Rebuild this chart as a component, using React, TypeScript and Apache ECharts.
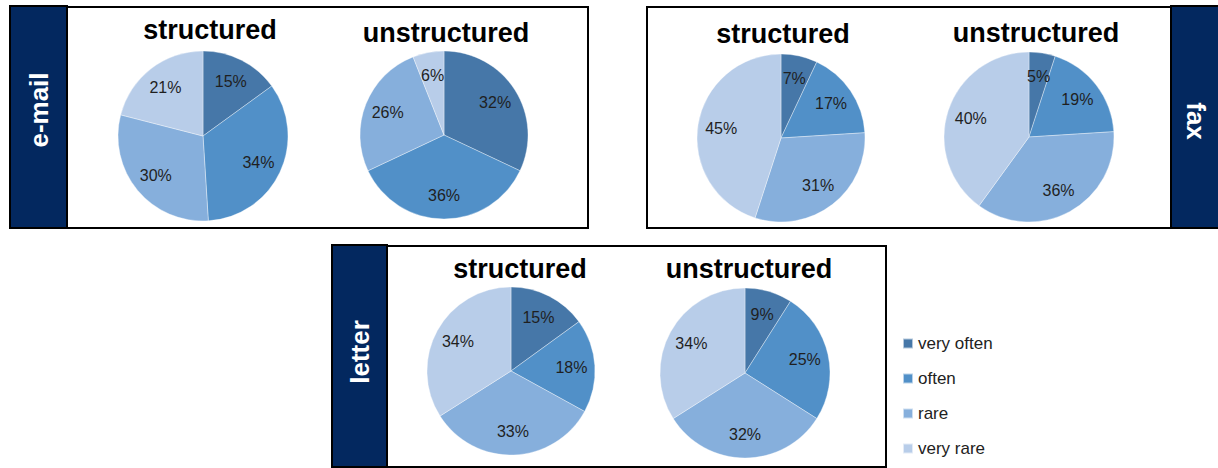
import React, { useEffect, useRef } from "react";
import * as echarts from "echarts";

// ---- data ----
const categories = ["very often", "often", "rare", "very rare"];
const emailStructured = [15, 34, 30, 21];
const emailUnstructured = [32, 36, 26, 6];
const faxStructured = [7, 17, 31, 45];
const faxUnstructured = [5, 19, 36, 40];
const letterStructured = [15, 18, 33, 34];
const letterUnstructured = [9, 25, 32, 34];
const panelLabels = ["e-mail", "fax", "letter"];
const pieTitles = ["structured", "unstructured"];

// ---- styles ----
const COLORS = ["#4677a8", "#5190c8", "#86afdc", "#b8cde9"];
const NAVY = "#03285f";
const FONT = '"Liberation Sans", Arial, sans-serif';

export default function App() {
  const ref = useRef<HTMLDivElement>(null);

  useEffect(() => {
    document.body.style.margin = "0";
    const chart = echarts.init(ref.current!, null, { renderer: "svg" });

    const pies = [
      { values: emailStructured, center: [203, 136], r: 85 },
      { values: emailUnstructured, center: [444, 135], r: 84 },
      { values: faxStructured, center: [781, 138], r: 84 },
      { values: faxUnstructured, center: [1029, 137], r: 85 },
      { values: letterStructured, center: [511, 371], r: 84 },
      { values: letterUnstructured, center: [745, 373], r: 85 },
    ];

    const toData = (vals: number[], transparent: boolean) =>
      vals.map((v, i) => ({
        name: categories[i],
        value: v,
        itemStyle: { color: transparent ? "rgba(0,0,0,0)" : COLORS[i] },
      }));

    const pieSeries = pies.map((p) => ({
      type: "pie",
      center: p.center,
      radius: [0, p.r],
      startAngle: 90,
      clockwise: true,
      silent: true,
      emphasis: { disabled: true },
      label: { show: false },
      labelLine: { show: false },
      itemStyle: { borderColor: "rgba(255,255,255,0.6)", borderWidth: 0.6 },
      data: toData(p.values, false),
    }));

    const labelSeries = pies.map((p) => ({
      type: "pie",
      center: p.center,
      radius: [0, p.r * 1.37],
      startAngle: 90,
      clockwise: true,
      silent: true,
      legendHoverLink: false,
      emphasis: { disabled: true },
      label: {
        show: true,
        position: "inside",
        formatter: "{c}%",
        fontFamily: FONT,
        fontSize: 16,
        color: "#1f1f1f",
      },
      labelLine: { show: false },
      itemStyle: { borderWidth: 0 },
      data: toData(p.values, true),
    }));

    const titlePos = [
      [210, 30], [446, 33],
      [783, 34], [1036, 33],
      [520, 269], [749, 269],
    ];

    const titleTexts = titlePos.map((pos, i) => ({
      type: "text",
      x: pos[0],
      y: pos[1],
      z: 10,
      style: {
        text: pieTitles[i % 2],
        fill: "#000",
        fontSize: 27,
        fontWeight: "bold",
        fontFamily: FONT,
        align: "center",
        verticalAlign: "middle",
      },
    }));

    const sideLabels = [
      { text: panelLabels[0], x: 39, y: 110, rotation: Math.PI / 2 },
      { text: panelLabels[1], x: 1196, y: 121, rotation: -Math.PI / 2 },
      { text: panelLabels[2], x: 360, y: 352, rotation: Math.PI / 2 },
    ].map((s) => ({
      type: "text",
      x: s.x,
      y: s.y,
      rotation: s.rotation,
      z: 10,
      style: {
        text: s.text,
        fill: "#fff",
        fontSize: 26,
        fontWeight: "bold",
        fontFamily: FONT,
        align: "center",
        verticalAlign: "middle",
      },
    }));

    const rect = (x: number, y: number, w: number, h: number, fill: string) => ({
      type: "rect",
      z: 0,
      shape: { x, y, width: w, height: h },
      style: { fill, stroke: "#000", lineWidth: 2 },
    });

    const boxes = [
      // e-mail panel
      rect(67, 7, 521, 221, "#fff"),
      rect(10, 6, 57, 222, NAVY),
      // fax panel
      rect(647, 7, 524, 221, "#fff"),
      rect(1171, 6, 50, 222, NAVY),
      // letter panel
      rect(387, 246, 499, 221, "#fff"),
      rect(332, 245, 55, 222, NAVY),
    ];

    chart.setOption({
      animation: false,
      backgroundColor: "#fff",
      legend: {
        orient: "vertical",
        left: 902,
        top: 335,
        padding: 0,
        itemWidth: 10,
        itemHeight: 10,
        itemGap: 18,
        icon: "rect",
        selectedMode: false,
        textStyle: { fontSize: 17, fontFamily: FONT, color: "#222", lineHeight: 17 },
        data: categories.map((c, i) => ({ name: c, itemStyle: { color: COLORS[i] } })),
      },
      graphic: [...boxes, ...titleTexts, ...sideLabels],
      series: [...pieSeries, ...labelSeries],
    } as any);

    return () => chart.dispose();
  }, []);

  return <div ref={ref} style={{ width: 1218, height: 468 }} />;
}
